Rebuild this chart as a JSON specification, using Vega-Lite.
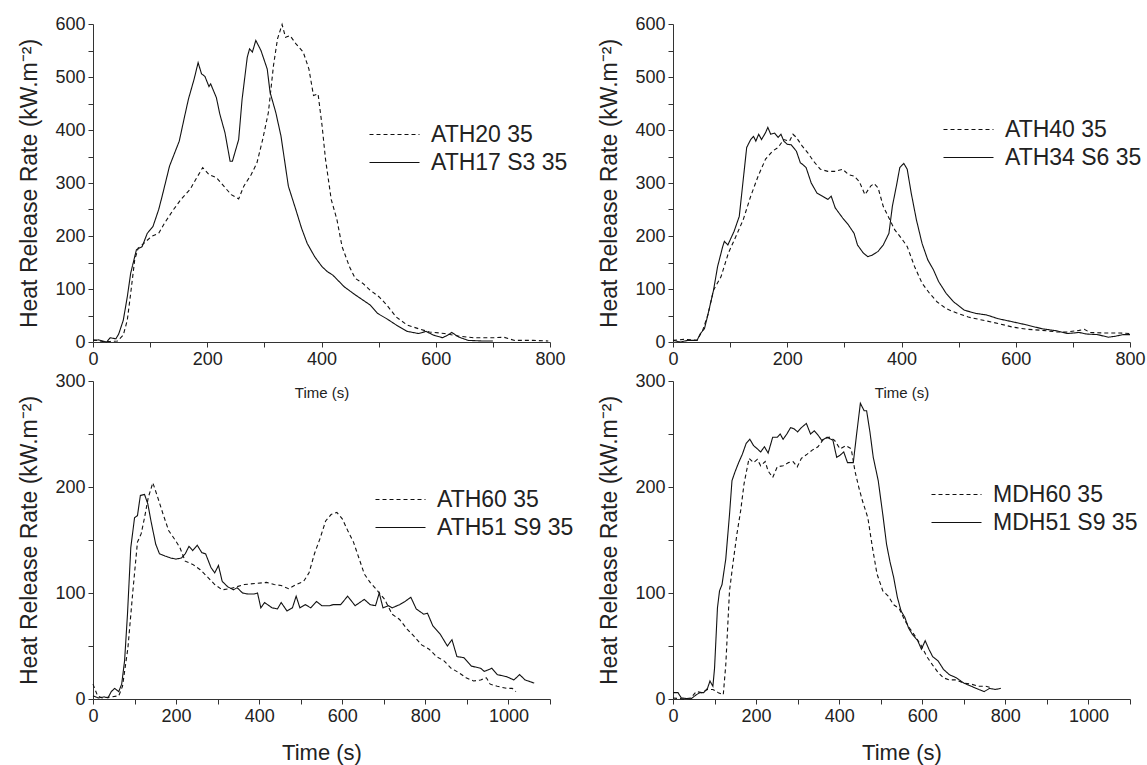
{
  "$schema": "https://vega.github.io/schema/vega-lite/v6.json",
  "background": "white",
  "padding": {"left": 18, "top": 15, "right": 5, "bottom": 5},
  "config": {
    "view": {"stroke": null},
    "font": "Liberation Sans",
    "axis": {
      "grid": false,
      "domainColor": "#333",
      "tickColor": "#333",
      "tickSize": 5,
      "format": "d",
      "labelFont": "Liberation Sans",
      "labelFontSize": 18,
      "labelColor": "#222",
      "labelPadding": 3,
      "labelOverlap": false,
      "labelFlush": false,
      "titleFont": "Liberation Sans",
      "titleFontWeight": "normal",
      "titleColor": "#222"
    },
    "legend": {
      "symbolType": "M-5,0H5",
      "symbolSize": 100,
      "symbolStrokeWidth": 1.1,
      "symbolStrokeColor": "#111",
      "symbolFillColor": "transparent",
      "labelFont": "Liberation Sans",
      "labelFontSize": 23,
      "labelColor": "#222",
      "labelOffset": 25,
      "rowPadding": 4,
      "padding": 0,
      "orient": "none"
    }
  },
  "datasets": {
    "p1": [
      {"s":"ATH20 35","t":0,"v":4},{"s":"ATH20 35","t":17,"v":1},{"s":"ATH20 35","t":30,"v":1},{"s":"ATH20 35","t":43,"v":2},{"s":"ATH20 35","t":53,"v":13},{"s":"ATH20 35","t":60,"v":41},{"s":"ATH20 35","t":66,"v":92},{"s":"ATH20 35","t":73,"v":155},{"s":"ATH20 35","t":79,"v":177},{"s":"ATH20 35","t":89,"v":186},{"s":"ATH20 35","t":102,"v":199},{"s":"ATH20 35","t":115,"v":205},{"s":"ATH20 35","t":125,"v":224},{"s":"ATH20 35","t":141,"v":250},{"s":"ATH20 35","t":154,"v":269},{"s":"ATH20 35","t":170,"v":288},{"s":"ATH20 35","t":180,"v":307},{"s":"ATH20 35","t":192,"v":329},{"s":"ATH20 35","t":203,"v":316},{"s":"ATH20 35","t":216,"v":310},{"s":"ATH20 35","t":229,"v":294},{"s":"ATH20 35","t":242,"v":278},{"s":"ATH20 35","t":255,"v":270},{"s":"ATH20 35","t":264,"v":294},{"s":"ATH20 35","t":277,"v":316},{"s":"ATH20 35","t":287,"v":338},{"s":"ATH20 35","t":297,"v":382},{"s":"ATH20 35","t":307,"v":433},{"s":"ATH20 35","t":316,"v":522},{"s":"ATH20 35","t":323,"v":572},{"s":"ATH20 35","t":331,"v":599},{"s":"ATH20 35","t":337,"v":575},{"s":"ATH20 35","t":345,"v":578},{"s":"ATH20 35","t":355,"v":563},{"s":"ATH20 35","t":368,"v":547},{"s":"ATH20 35","t":378,"v":515},{"s":"ATH20 35","t":386,"v":465},{"s":"ATH20 35","t":394,"v":468},{"s":"ATH20 35","t":401,"v":408},{"s":"ATH20 35","t":407,"v":345},{"s":"ATH20 35","t":417,"v":269},{"s":"ATH20 35","t":427,"v":231},{"s":"ATH20 35","t":436,"v":180},{"s":"ATH20 35","t":449,"v":142},{"s":"ATH20 35","t":459,"v":120},{"s":"ATH20 35","t":472,"v":111},{"s":"ATH20 35","t":485,"v":98},{"s":"ATH20 35","t":501,"v":85},{"s":"ATH20 35","t":514,"v":70},{"s":"ATH20 35","t":531,"v":47},{"s":"ATH20 35","t":550,"v":32},{"s":"ATH20 35","t":570,"v":25},{"s":"ATH20 35","t":589,"v":19},{"s":"ATH20 35","t":615,"v":16},{"s":"ATH20 35","t":641,"v":11},{"s":"ATH20 35","t":667,"v":8},{"s":"ATH20 35","t":700,"v":8},{"s":"ATH20 35","t":719,"v":9},{"s":"ATH20 35","t":738,"v":3},{"s":"ATH20 35","t":771,"v":3},{"s":"ATH20 35","t":797,"v":2},
      {"s":"ATH17 S3 35","t":0,"v":3},{"s":"ATH17 S3 35","t":10,"v":4},{"s":"ATH17 S3 35","t":24,"v":0},{"s":"ATH17 S3 35","t":30,"v":8},{"s":"ATH17 S3 35","t":40,"v":6},{"s":"ATH17 S3 35","t":45,"v":15},{"s":"ATH17 S3 35","t":53,"v":41},{"s":"ATH17 S3 35","t":60,"v":85},{"s":"ATH17 S3 35","t":66,"v":130},{"s":"ATH17 S3 35","t":76,"v":174},{"s":"ATH17 S3 35","t":86,"v":180},{"s":"ATH17 S3 35","t":95,"v":205},{"s":"ATH17 S3 35","t":105,"v":218},{"s":"ATH17 S3 35","t":115,"v":250},{"s":"ATH17 S3 35","t":121,"v":275},{"s":"ATH17 S3 35","t":134,"v":332},{"s":"ATH17 S3 35","t":151,"v":379},{"s":"ATH17 S3 35","t":160,"v":424},{"s":"ATH17 S3 35","t":167,"v":458},{"s":"ATH17 S3 35","t":177,"v":496},{"s":"ATH17 S3 35","t":184,"v":527},{"s":"ATH17 S3 35","t":190,"v":506},{"s":"ATH17 S3 35","t":196,"v":501},{"s":"ATH17 S3 35","t":203,"v":482},{"s":"ATH17 S3 35","t":206,"v":487},{"s":"ATH17 S3 35","t":216,"v":461},{"s":"ATH17 S3 35","t":222,"v":430},{"s":"ATH17 S3 35","t":231,"v":395},{"s":"ATH17 S3 35","t":240,"v":341},{"s":"ATH17 S3 35","t":244,"v":341},{"s":"ATH17 S3 35","t":255,"v":382},{"s":"ATH17 S3 35","t":261,"v":458},{"s":"ATH17 S3 35","t":270,"v":537},{"s":"ATH17 S3 35","t":274,"v":553},{"s":"ATH17 S3 35","t":279,"v":547},{"s":"ATH17 S3 35","t":285,"v":569},{"s":"ATH17 S3 35","t":294,"v":550},{"s":"ATH17 S3 35","t":305,"v":515},{"s":"ATH17 S3 35","t":310,"v":471},{"s":"ATH17 S3 35","t":320,"v":433},{"s":"ATH17 S3 35","t":329,"v":389},{"s":"ATH17 S3 35","t":342,"v":294},{"s":"ATH17 S3 35","t":355,"v":250},{"s":"ATH17 S3 35","t":365,"v":215},{"s":"ATH17 S3 35","t":375,"v":186},{"s":"ATH17 S3 35","t":388,"v":161},{"s":"ATH17 S3 35","t":401,"v":142},{"s":"ATH17 S3 35","t":410,"v":133},{"s":"ATH17 S3 35","t":420,"v":126},{"s":"ATH17 S3 35","t":440,"v":104},{"s":"ATH17 S3 35","t":459,"v":89},{"s":"ATH17 S3 35","t":485,"v":70},{"s":"ATH17 S3 35","t":498,"v":54},{"s":"ATH17 S3 35","t":514,"v":44},{"s":"ATH17 S3 35","t":531,"v":32},{"s":"ATH17 S3 35","t":550,"v":20},{"s":"ATH17 S3 35","t":570,"v":16},{"s":"ATH17 S3 35","t":583,"v":20},{"s":"ATH17 S3 35","t":596,"v":13},{"s":"ATH17 S3 35","t":612,"v":8},{"s":"ATH17 S3 35","t":621,"v":13},{"s":"ATH17 S3 35","t":628,"v":18},{"s":"ATH17 S3 35","t":641,"v":9},{"s":"ATH17 S3 35","t":657,"v":3},{"s":"ATH17 S3 35","t":680,"v":2},{"s":"ATH17 S3 35","t":700,"v":2}
    ],
    "p2": [
      {"s":"ATH40 35","t":0,"v":3},{"s":"ATH40 35","t":19,"v":5},{"s":"ATH40 35","t":42,"v":3},{"s":"ATH40 35","t":52,"v":22},{"s":"ATH40 35","t":61,"v":51},{"s":"ATH40 35","t":71,"v":98},{"s":"ATH40 35","t":84,"v":123},{"s":"ATH40 35","t":97,"v":168},{"s":"ATH40 35","t":110,"v":199},{"s":"ATH40 35","t":123,"v":231},{"s":"ATH40 35","t":136,"v":275},{"s":"ATH40 35","t":149,"v":313},{"s":"ATH40 35","t":162,"v":345},{"s":"ATH40 35","t":174,"v":360},{"s":"ATH40 35","t":184,"v":367},{"s":"ATH40 35","t":194,"v":382},{"s":"ATH40 35","t":204,"v":379},{"s":"ATH40 35","t":210,"v":392},{"s":"ATH40 35","t":216,"v":386},{"s":"ATH40 35","t":226,"v":370},{"s":"ATH40 35","t":236,"v":357},{"s":"ATH40 35","t":246,"v":341},{"s":"ATH40 35","t":258,"v":326},{"s":"ATH40 35","t":271,"v":322},{"s":"ATH40 35","t":284,"v":322},{"s":"ATH40 35","t":297,"v":326},{"s":"ATH40 35","t":307,"v":316},{"s":"ATH40 35","t":317,"v":313},{"s":"ATH40 35","t":326,"v":303},{"s":"ATH40 35","t":336,"v":278},{"s":"ATH40 35","t":346,"v":294},{"s":"ATH40 35","t":352,"v":299},{"s":"ATH40 35","t":359,"v":291},{"s":"ATH40 35","t":368,"v":256},{"s":"ATH40 35","t":378,"v":234},{"s":"ATH40 35","t":388,"v":212},{"s":"ATH40 35","t":401,"v":194},{"s":"ATH40 35","t":410,"v":180},{"s":"ATH40 35","t":423,"v":142},{"s":"ATH40 35","t":436,"v":111},{"s":"ATH40 35","t":449,"v":92},{"s":"ATH40 35","t":462,"v":76},{"s":"ATH40 35","t":478,"v":63},{"s":"ATH40 35","t":498,"v":54},{"s":"ATH40 35","t":517,"v":47},{"s":"ATH40 35","t":543,"v":41},{"s":"ATH40 35","t":569,"v":35},{"s":"ATH40 35","t":595,"v":28},{"s":"ATH40 35","t":620,"v":24},{"s":"ATH40 35","t":646,"v":22},{"s":"ATH40 35","t":672,"v":19},{"s":"ATH40 35","t":691,"v":19},{"s":"ATH40 35","t":711,"v":22},{"s":"ATH40 35","t":720,"v":24},{"s":"ATH40 35","t":730,"v":18},{"s":"ATH40 35","t":756,"v":17},{"s":"ATH40 35","t":782,"v":17},{"s":"ATH40 35","t":800,"v":16},
      {"s":"ATH34 S6 35","t":0,"v":3},{"s":"ATH34 S6 35","t":13,"v":0},{"s":"ATH34 S6 35","t":26,"v":3},{"s":"ATH34 S6 35","t":42,"v":3},{"s":"ATH34 S6 35","t":48,"v":16},{"s":"ATH34 S6 35","t":55,"v":25},{"s":"ATH34 S6 35","t":61,"v":51},{"s":"ATH34 S6 35","t":71,"v":98},{"s":"ATH34 S6 35","t":78,"v":142},{"s":"ATH34 S6 35","t":87,"v":180},{"s":"ATH34 S6 35","t":90,"v":190},{"s":"ATH34 S6 35","t":96,"v":183},{"s":"ATH34 S6 35","t":107,"v":209},{"s":"ATH34 S6 35","t":116,"v":237},{"s":"ATH34 S6 35","t":123,"v":307},{"s":"ATH34 S6 35","t":129,"v":367},{"s":"ATH34 S6 35","t":136,"v":382},{"s":"ATH34 S6 35","t":141,"v":388},{"s":"ATH34 S6 35","t":145,"v":379},{"s":"ATH34 S6 35","t":150,"v":392},{"s":"ATH34 S6 35","t":155,"v":382},{"s":"ATH34 S6 35","t":162,"v":395},{"s":"ATH34 S6 35","t":166,"v":405},{"s":"ATH34 S6 35","t":171,"v":392},{"s":"ATH34 S6 35","t":178,"v":394},{"s":"ATH34 S6 35","t":184,"v":386},{"s":"ATH34 S6 35","t":189,"v":392},{"s":"ATH34 S6 35","t":194,"v":379},{"s":"ATH34 S6 35","t":200,"v":373},{"s":"ATH34 S6 35","t":207,"v":372},{"s":"ATH34 S6 35","t":216,"v":360},{"s":"ATH34 S6 35","t":223,"v":338},{"s":"ATH34 S6 35","t":227,"v":335},{"s":"ATH34 S6 35","t":233,"v":329},{"s":"ATH34 S6 35","t":242,"v":300},{"s":"ATH34 S6 35","t":252,"v":281},{"s":"ATH34 S6 35","t":262,"v":275},{"s":"ATH34 S6 35","t":271,"v":269},{"s":"ATH34 S6 35","t":277,"v":275},{"s":"ATH34 S6 35","t":284,"v":253},{"s":"ATH34 S6 35","t":297,"v":234},{"s":"ATH34 S6 35","t":307,"v":221},{"s":"ATH34 S6 35","t":317,"v":205},{"s":"ATH34 S6 35","t":323,"v":183},{"s":"ATH34 S6 35","t":333,"v":168},{"s":"ATH34 S6 35","t":341,"v":161},{"s":"ATH34 S6 35","t":349,"v":164},{"s":"ATH34 S6 35","t":359,"v":171},{"s":"ATH34 S6 35","t":368,"v":183},{"s":"ATH34 S6 35","t":378,"v":205},{"s":"ATH34 S6 35","t":384,"v":256},{"s":"ATH34 S6 35","t":391,"v":294},{"s":"ATH34 S6 35","t":397,"v":329},{"s":"ATH34 S6 35","t":404,"v":337},{"s":"ATH34 S6 35","t":410,"v":326},{"s":"ATH34 S6 35","t":417,"v":281},{"s":"ATH34 S6 35","t":426,"v":231},{"s":"ATH34 S6 35","t":436,"v":186},{"s":"ATH34 S6 35","t":446,"v":155},{"s":"ATH34 S6 35","t":456,"v":136},{"s":"ATH34 S6 35","t":465,"v":114},{"s":"ATH34 S6 35","t":478,"v":92},{"s":"ATH34 S6 35","t":491,"v":76},{"s":"ATH34 S6 35","t":510,"v":60},{"s":"ATH34 S6 35","t":530,"v":54},{"s":"ATH34 S6 35","t":549,"v":51},{"s":"ATH34 S6 35","t":569,"v":44},{"s":"ATH34 S6 35","t":595,"v":38},{"s":"ATH34 S6 35","t":620,"v":32},{"s":"ATH34 S6 35","t":646,"v":25},{"s":"ATH34 S6 35","t":672,"v":21},{"s":"ATH34 S6 35","t":691,"v":16},{"s":"ATH34 S6 35","t":711,"v":18},{"s":"ATH34 S6 35","t":724,"v":15},{"s":"ATH34 S6 35","t":743,"v":14},{"s":"ATH34 S6 35","t":762,"v":9},{"s":"ATH34 S6 35","t":775,"v":11},{"s":"ATH34 S6 35","t":788,"v":14},{"s":"ATH34 S6 35","t":800,"v":14}
    ],
    "p3": [
      {"s":"ATH60 35","t":0,"v":14},{"s":"ATH60 35","t":11,"v":3},{"s":"ATH60 35","t":22,"v":1},{"s":"ATH60 35","t":44,"v":2},{"s":"ATH60 35","t":62,"v":3},{"s":"ATH60 35","t":71,"v":12},{"s":"ATH60 35","t":84,"v":48},{"s":"ATH60 35","t":96,"v":102},{"s":"ATH60 35","t":107,"v":148},{"s":"ATH60 35","t":116,"v":156},{"s":"ATH60 35","t":124,"v":171},{"s":"ATH60 35","t":133,"v":190},{"s":"ATH60 35","t":144,"v":204},{"s":"ATH60 35","t":156,"v":190},{"s":"ATH60 35","t":169,"v":174},{"s":"ATH60 35","t":182,"v":159},{"s":"ATH60 35","t":196,"v":151},{"s":"ATH60 35","t":209,"v":143},{"s":"ATH60 35","t":222,"v":130},{"s":"ATH60 35","t":240,"v":127},{"s":"ATH60 35","t":258,"v":122},{"s":"ATH60 35","t":276,"v":115},{"s":"ATH60 35","t":293,"v":108},{"s":"ATH60 35","t":311,"v":103},{"s":"ATH60 35","t":329,"v":104},{"s":"ATH60 35","t":347,"v":106},{"s":"ATH60 35","t":364,"v":108},{"s":"ATH60 35","t":391,"v":109},{"s":"ATH60 35","t":418,"v":110},{"s":"ATH60 35","t":436,"v":108},{"s":"ATH60 35","t":453,"v":107},{"s":"ATH60 35","t":471,"v":104},{"s":"ATH60 35","t":489,"v":108},{"s":"ATH60 35","t":507,"v":111},{"s":"ATH60 35","t":520,"v":119},{"s":"ATH60 35","t":533,"v":137},{"s":"ATH60 35","t":547,"v":152},{"s":"ATH60 35","t":560,"v":168},{"s":"ATH60 35","t":573,"v":174},{"s":"ATH60 35","t":587,"v":176},{"s":"ATH60 35","t":600,"v":170},{"s":"ATH60 35","t":613,"v":159},{"s":"ATH60 35","t":627,"v":148},{"s":"ATH60 35","t":640,"v":133},{"s":"ATH60 35","t":653,"v":118},{"s":"ATH60 35","t":667,"v":110},{"s":"ATH60 35","t":685,"v":102},{"s":"ATH60 35","t":702,"v":94},{"s":"ATH60 35","t":720,"v":80},{"s":"ATH60 35","t":738,"v":75},{"s":"ATH60 35","t":756,"v":66},{"s":"ATH60 35","t":773,"v":59},{"s":"ATH60 35","t":791,"v":51},{"s":"ATH60 35","t":809,"v":47},{"s":"ATH60 35","t":827,"v":40},{"s":"ATH60 35","t":845,"v":36},{"s":"ATH60 35","t":862,"v":29},{"s":"ATH60 35","t":880,"v":25},{"s":"ATH60 35","t":898,"v":20},{"s":"ATH60 35","t":916,"v":17},{"s":"ATH60 35","t":933,"v":18},{"s":"ATH60 35","t":947,"v":20},{"s":"ATH60 35","t":956,"v":14},{"s":"ATH60 35","t":973,"v":12},{"s":"ATH60 35","t":996,"v":10},{"s":"ATH60 35","t":1009,"v":10},{"s":"ATH60 35","t":1018,"v":7},
      {"s":"ATH51 S9 35","t":0,"v":3},{"s":"ATH51 S9 35","t":13,"v":1},{"s":"ATH51 S9 35","t":27,"v":2},{"s":"ATH51 S9 35","t":36,"v":1},{"s":"ATH51 S9 35","t":44,"v":7},{"s":"ATH51 S9 35","t":52,"v":10},{"s":"ATH51 S9 35","t":62,"v":7},{"s":"ATH51 S9 35","t":69,"v":14},{"s":"ATH51 S9 35","t":76,"v":36},{"s":"ATH51 S9 35","t":83,"v":80},{"s":"ATH51 S9 35","t":91,"v":143},{"s":"ATH51 S9 35","t":100,"v":171},{"s":"ATH51 S9 35","t":107,"v":173},{"s":"ATH51 S9 35","t":114,"v":192},{"s":"ATH51 S9 35","t":124,"v":193},{"s":"ATH51 S9 35","t":132,"v":184},{"s":"ATH51 S9 35","t":140,"v":167},{"s":"ATH51 S9 35","t":151,"v":146},{"s":"ATH51 S9 35","t":160,"v":137},{"s":"ATH51 S9 35","t":173,"v":135},{"s":"ATH51 S9 35","t":187,"v":133},{"s":"ATH51 S9 35","t":200,"v":132},{"s":"ATH51 S9 35","t":213,"v":133},{"s":"ATH51 S9 35","t":222,"v":137},{"s":"ATH51 S9 35","t":231,"v":144},{"s":"ATH51 S9 35","t":240,"v":140},{"s":"ATH51 S9 35","t":251,"v":145},{"s":"ATH51 S9 35","t":262,"v":138},{"s":"ATH51 S9 35","t":271,"v":137},{"s":"ATH51 S9 35","t":284,"v":124},{"s":"ATH51 S9 35","t":293,"v":119},{"s":"ATH51 S9 35","t":302,"v":126},{"s":"ATH51 S9 35","t":311,"v":111},{"s":"ATH51 S9 35","t":324,"v":106},{"s":"ATH51 S9 35","t":338,"v":103},{"s":"ATH51 S9 35","t":347,"v":105},{"s":"ATH51 S9 35","t":360,"v":100},{"s":"ATH51 S9 35","t":373,"v":99},{"s":"ATH51 S9 35","t":387,"v":99},{"s":"ATH51 S9 35","t":396,"v":100},{"s":"ATH51 S9 35","t":404,"v":86},{"s":"ATH51 S9 35","t":413,"v":91},{"s":"ATH51 S9 35","t":431,"v":86},{"s":"ATH51 S9 35","t":444,"v":85},{"s":"ATH51 S9 35","t":453,"v":91},{"s":"ATH51 S9 35","t":467,"v":83},{"s":"ATH51 S9 35","t":480,"v":86},{"s":"ATH51 S9 35","t":489,"v":97},{"s":"ATH51 S9 35","t":498,"v":86},{"s":"ATH51 S9 35","t":511,"v":89},{"s":"ATH51 S9 35","t":524,"v":86},{"s":"ATH51 S9 35","t":538,"v":92},{"s":"ATH51 S9 35","t":551,"v":88},{"s":"ATH51 S9 35","t":569,"v":88},{"s":"ATH51 S9 35","t":578,"v":89},{"s":"ATH51 S9 35","t":596,"v":89},{"s":"ATH51 S9 35","t":613,"v":97},{"s":"ATH51 S9 35","t":631,"v":88},{"s":"ATH51 S9 35","t":653,"v":94},{"s":"ATH51 S9 35","t":667,"v":89},{"s":"ATH51 S9 35","t":680,"v":88},{"s":"ATH51 S9 35","t":689,"v":100},{"s":"ATH51 S9 35","t":698,"v":86},{"s":"ATH51 S9 35","t":711,"v":88},{"s":"ATH51 S9 35","t":720,"v":86},{"s":"ATH51 S9 35","t":738,"v":89},{"s":"ATH51 S9 35","t":751,"v":92},{"s":"ATH51 S9 35","t":765,"v":96},{"s":"ATH51 S9 35","t":778,"v":85},{"s":"ATH51 S9 35","t":796,"v":80},{"s":"ATH51 S9 35","t":805,"v":81},{"s":"ATH51 S9 35","t":818,"v":69},{"s":"ATH51 S9 35","t":836,"v":61},{"s":"ATH51 S9 35","t":853,"v":50},{"s":"ATH51 S9 35","t":864,"v":56},{"s":"ATH51 S9 35","t":876,"v":40},{"s":"ATH51 S9 35","t":893,"v":39},{"s":"ATH51 S9 35","t":911,"v":31},{"s":"ATH51 S9 35","t":933,"v":29},{"s":"ATH51 S9 35","t":942,"v":26},{"s":"ATH51 S9 35","t":960,"v":29},{"s":"ATH51 S9 35","t":973,"v":23},{"s":"ATH51 S9 35","t":996,"v":21},{"s":"ATH51 S9 35","t":1013,"v":18},{"s":"ATH51 S9 35","t":1027,"v":23},{"s":"ATH51 S9 35","t":1040,"v":18},{"s":"ATH51 S9 35","t":1062,"v":15}
    ],
    "p4": [
      {"s":"MDH60 35","t":0,"v":1},{"s":"MDH60 35","t":25,"v":0},{"s":"MDH60 35","t":43,"v":1},{"s":"MDH60 35","t":56,"v":7},{"s":"MDH60 35","t":69,"v":6},{"s":"MDH60 35","t":83,"v":9},{"s":"MDH60 35","t":96,"v":9},{"s":"MDH60 35","t":109,"v":6},{"s":"MDH60 35","t":121,"v":4},{"s":"MDH60 35","t":127,"v":32},{"s":"MDH60 35","t":136,"v":102},{"s":"MDH60 35","t":145,"v":130},{"s":"MDH60 35","t":154,"v":156},{"s":"MDH60 35","t":163,"v":178},{"s":"MDH60 35","t":171,"v":203},{"s":"MDH60 35","t":183,"v":227},{"s":"MDH60 35","t":194,"v":223},{"s":"MDH60 35","t":203,"v":226},{"s":"MDH60 35","t":211,"v":220},{"s":"MDH60 35","t":222,"v":224},{"s":"MDH60 35","t":229,"v":215},{"s":"MDH60 35","t":240,"v":209},{"s":"MDH60 35","t":251,"v":219},{"s":"MDH60 35","t":265,"v":220},{"s":"MDH60 35","t":278,"v":223},{"s":"MDH60 35","t":289,"v":224},{"s":"MDH60 35","t":299,"v":219},{"s":"MDH60 35","t":309,"v":227},{"s":"MDH60 35","t":323,"v":231},{"s":"MDH60 35","t":336,"v":235},{"s":"MDH60 35","t":349,"v":238},{"s":"MDH60 35","t":362,"v":245},{"s":"MDH60 35","t":376,"v":247},{"s":"MDH60 35","t":389,"v":244},{"s":"MDH60 35","t":402,"v":236},{"s":"MDH60 35","t":416,"v":239},{"s":"MDH60 35","t":429,"v":236},{"s":"MDH60 35","t":438,"v":215},{"s":"MDH60 35","t":447,"v":200},{"s":"MDH60 35","t":456,"v":187},{"s":"MDH60 35","t":469,"v":171},{"s":"MDH60 35","t":480,"v":143},{"s":"MDH60 35","t":491,"v":118},{"s":"MDH60 35","t":505,"v":102},{"s":"MDH60 35","t":518,"v":97},{"s":"MDH60 35","t":531,"v":89},{"s":"MDH60 35","t":545,"v":85},{"s":"MDH60 35","t":558,"v":74},{"s":"MDH60 35","t":571,"v":66},{"s":"MDH60 35","t":585,"v":58},{"s":"MDH60 35","t":598,"v":50},{"s":"MDH60 35","t":611,"v":40},{"s":"MDH60 35","t":625,"v":32},{"s":"MDH60 35","t":638,"v":25},{"s":"MDH60 35","t":651,"v":20},{"s":"MDH60 35","t":665,"v":18},{"s":"MDH60 35","t":682,"v":18},{"s":"MDH60 35","t":700,"v":15},{"s":"MDH60 35","t":718,"v":14},{"s":"MDH60 35","t":736,"v":12},{"s":"MDH60 35","t":753,"v":12},{"s":"MDH60 35","t":762,"v":11},
      {"s":"MDH51 S9 35","t":0,"v":6},{"s":"MDH51 S9 35","t":12,"v":6},{"s":"MDH51 S9 35","t":20,"v":1},{"s":"MDH51 S9 35","t":43,"v":0},{"s":"MDH51 S9 35","t":56,"v":4},{"s":"MDH51 S9 35","t":65,"v":6},{"s":"MDH51 S9 35","t":74,"v":6},{"s":"MDH51 S9 35","t":83,"v":10},{"s":"MDH51 S9 35","t":89,"v":17},{"s":"MDH51 S9 35","t":96,"v":12},{"s":"MDH51 S9 35","t":100,"v":29},{"s":"MDH51 S9 35","t":107,"v":86},{"s":"MDH51 S9 35","t":112,"v":102},{"s":"MDH51 S9 35","t":118,"v":108},{"s":"MDH51 S9 35","t":127,"v":132},{"s":"MDH51 S9 35","t":136,"v":174},{"s":"MDH51 S9 35","t":142,"v":206},{"s":"MDH51 S9 35","t":149,"v":214},{"s":"MDH51 S9 35","t":158,"v":223},{"s":"MDH51 S9 35","t":167,"v":231},{"s":"MDH51 S9 35","t":176,"v":241},{"s":"MDH51 S9 35","t":185,"v":245},{"s":"MDH51 S9 35","t":194,"v":239},{"s":"MDH51 S9 35","t":203,"v":236},{"s":"MDH51 S9 35","t":211,"v":233},{"s":"MDH51 S9 35","t":220,"v":238},{"s":"MDH51 S9 35","t":229,"v":232},{"s":"MDH51 S9 35","t":240,"v":247},{"s":"MDH51 S9 35","t":251,"v":247},{"s":"MDH51 S9 35","t":258,"v":250},{"s":"MDH51 S9 35","t":265,"v":245},{"s":"MDH51 S9 35","t":274,"v":250},{"s":"MDH51 S9 35","t":283,"v":256},{"s":"MDH51 S9 35","t":291,"v":255},{"s":"MDH51 S9 35","t":300,"v":252},{"s":"MDH51 S9 35","t":309,"v":256},{"s":"MDH51 S9 35","t":321,"v":260},{"s":"MDH51 S9 35","t":331,"v":250},{"s":"MDH51 S9 35","t":340,"v":253},{"s":"MDH51 S9 35","t":349,"v":249},{"s":"MDH51 S9 35","t":358,"v":244},{"s":"MDH51 S9 35","t":371,"v":247},{"s":"MDH51 S9 35","t":385,"v":244},{"s":"MDH51 S9 35","t":394,"v":228},{"s":"MDH51 S9 35","t":402,"v":230},{"s":"MDH51 S9 35","t":411,"v":233},{"s":"MDH51 S9 35","t":420,"v":223},{"s":"MDH51 S9 35","t":434,"v":223},{"s":"MDH51 S9 35","t":442,"v":250},{"s":"MDH51 S9 35","t":451,"v":279},{"s":"MDH51 S9 35","t":460,"v":272},{"s":"MDH51 S9 35","t":466,"v":272},{"s":"MDH51 S9 35","t":474,"v":252},{"s":"MDH51 S9 35","t":482,"v":228},{"s":"MDH51 S9 35","t":494,"v":206},{"s":"MDH51 S9 35","t":505,"v":174},{"s":"MDH51 S9 35","t":514,"v":146},{"s":"MDH51 S9 35","t":522,"v":130},{"s":"MDH51 S9 35","t":531,"v":115},{"s":"MDH51 S9 35","t":540,"v":96},{"s":"MDH51 S9 35","t":549,"v":83},{"s":"MDH51 S9 35","t":558,"v":77},{"s":"MDH51 S9 35","t":567,"v":67},{"s":"MDH51 S9 35","t":576,"v":61},{"s":"MDH51 S9 35","t":589,"v":55},{"s":"MDH51 S9 35","t":598,"v":47},{"s":"MDH51 S9 35","t":607,"v":55},{"s":"MDH51 S9 35","t":616,"v":47},{"s":"MDH51 S9 35","t":625,"v":40},{"s":"MDH51 S9 35","t":638,"v":36},{"s":"MDH51 S9 35","t":651,"v":28},{"s":"MDH51 S9 35","t":665,"v":23},{"s":"MDH51 S9 35","t":682,"v":20},{"s":"MDH51 S9 35","t":700,"v":15},{"s":"MDH51 S9 35","t":718,"v":12},{"s":"MDH51 S9 35","t":736,"v":9},{"s":"MDH51 S9 35","t":749,"v":7},{"s":"MDH51 S9 35","t":762,"v":10},{"s":"MDH51 S9 35","t":776,"v":9},{"s":"MDH51 S9 35","t":789,"v":10}
    ]
  },
  "columns": 2,
  "bounds": "flush",
  "spacing": {"row": 39, "column": 123},
  "resolve": {"scale": {"strokeDash": "independent", "x": "independent", "y": "independent"}, "legend": {"strokeDash": "independent"}},
  "concat": [
    {
      "width": 457, "height": 318,
      "data": {"name": "p1"},
      "mark": {"type": "line", "color": "#111", "strokeWidth": 1.1},
      "encoding": {
        "x": {"field": "t", "type": "quantitative", "scale": {"domain": [0, 800], "nice": false},
          "axis": {"title": "Time (s)", "titleFontSize": 15, "titlePadding": 17, "values": [0,100,200,300,400,500,600,700,800], "labelExpr": "datum.value % 200 === 0 ? datum.label : ''"}},
        "y": {"field": "v", "type": "quantitative", "scale": {"domain": [0, 600], "nice": false},
          "axis": {"title": "Heat Release Rate (kW.m⁻²)", "titleFontSize": 23, "titlePadding": 13, "values": [0,50,100,150,200,250,300,350,400,450,500,550,600], "labelExpr": "datum.value % 100 === 0 ? datum.label : ''"}},
        "strokeDash": {"field": "s", "type": "nominal", "scale": {"domain": ["ATH20 35", "ATH17 S3 35"], "range": [[4, 3], [1, 0]]},
          "legend": {"title": null, "orient": "none", "legendX": 290, "legendY": 99}}
      }
    },
    {
      "width": 457, "height": 318,
      "data": {"name": "p2"},
      "mark": {"type": "line", "color": "#111", "strokeWidth": 1.1},
      "encoding": {
        "x": {"field": "t", "type": "quantitative", "scale": {"domain": [0, 800], "nice": false},
          "axis": {"title": "Time (s)", "titleFontSize": 15, "titlePadding": 17, "values": [0,100,200,300,400,500,600,700,800], "labelExpr": "datum.value % 200 === 0 ? datum.label : ''"}},
        "y": {"field": "v", "type": "quantitative", "scale": {"domain": [0, 600], "nice": false},
          "axis": {"title": "Heat Release Rate (kW.m⁻²)", "titleFontSize": 23, "titlePadding": 13, "values": [0,50,100,150,200,250,300,350,400,450,500,550,600], "labelExpr": "datum.value % 100 === 0 ? datum.label : ''"}},
        "strokeDash": {"field": "s", "type": "nominal", "scale": {"domain": ["ATH40 35", "ATH34 S6 35"], "range": [[4, 3], [1, 0]]},
          "legend": {"title": null, "orient": "none", "legendX": 284, "legendY": 94}}
      }
    },
    {
      "width": 457, "height": 318,
      "data": {"name": "p3"},
      "mark": {"type": "line", "color": "#111", "strokeWidth": 1.1},
      "encoding": {
        "x": {"field": "t", "type": "quantitative", "scale": {"domain": [0, 1100], "nice": false},
          "axis": {"title": "Time (s)", "titleFontSize": 22, "titlePadding": 17, "values": [0,100,200,300,400,500,600,700,800,900,1000,1100], "labelExpr": "datum.value % 200 === 0 ? datum.label : ''"}},
        "y": {"field": "v", "type": "quantitative", "scale": {"domain": [0, 300], "nice": false},
          "axis": {"title": "Heat Release Rate (kW.m⁻²)", "titleFontSize": 23, "titlePadding": 13, "values": [0,50,100,150,200,250,300], "labelExpr": "datum.value % 100 === 0 ? datum.label : ''"}},
        "strokeDash": {"field": "s", "type": "nominal", "scale": {"domain": ["ATH60 35", "ATH51 S9 35"], "range": [[4, 3], [1, 0]]},
          "legend": {"title": null, "orient": "none", "legendX": 296, "legendY": 107}}
      }
    },
    {
      "width": 457, "height": 318,
      "data": {"name": "p4"},
      "mark": {"type": "line", "color": "#111", "strokeWidth": 1.1},
      "encoding": {
        "x": {"field": "t", "type": "quantitative", "scale": {"domain": [0, 1100], "nice": false},
          "axis": {"title": "Time (s)", "titleFontSize": 22, "titlePadding": 17, "values": [0,100,200,300,400,500,600,700,800,900,1000,1100], "labelExpr": "datum.value % 200 === 0 ? datum.label : ''"}},
        "y": {"field": "v", "type": "quantitative", "scale": {"domain": [0, 300], "nice": false},
          "axis": {"title": "Heat Release Rate (kW.m⁻²)", "titleFontSize": 23, "titlePadding": 13, "values": [0,50,100,150,200,250,300], "labelExpr": "datum.value % 100 === 0 ? datum.label : ''"}},
        "strokeDash": {"field": "s", "type": "nominal", "scale": {"domain": ["MDH60 35", "MDH51 S9 35"], "range": [[4, 3], [1, 0]]},
          "legend": {"title": null, "orient": "none", "legendX": 272, "legendY": 102}}
      }
    }
  ]
}
